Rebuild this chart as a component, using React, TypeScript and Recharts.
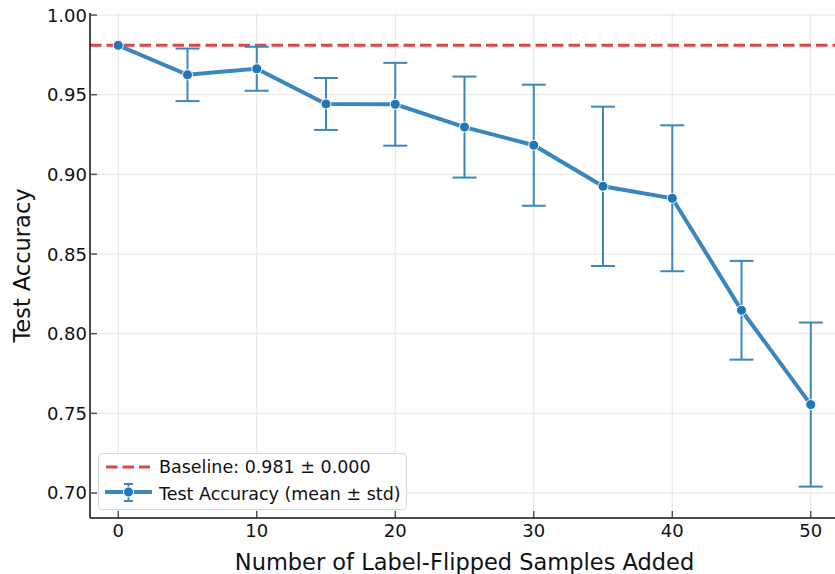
import React from "react"
import {
  ComposedChart,
  Line,
  XAxis,
  YAxis,
  CartesianGrid,
  ReferenceLine,
  ErrorBar,
} from "recharts"

const samplesAdded = [0, 5, 10, 15, 20, 25, 30, 35, 40, 45, 50]
const meanAccuracy = [0.981, 0.9625, 0.9663, 0.9442, 0.944, 0.9297, 0.9183, 0.8925, 0.885, 0.8147, 0.7555]
const stdAccuracy = [0, 0.0165, 0.0138, 0.0163, 0.026, 0.0317, 0.038, 0.05, 0.0458, 0.031, 0.0515]
const baseline = 0.981
const xTicks = [0, 10, 20, 30, 40, 50]
const yTicks = [0.7, 0.75, 0.8, 0.85, 0.9, 0.95, 1.0]

const data = samplesAdded.map((x, i) => ({
  x,
  mean: meanAccuracy[i],
  std: stdAccuracy[i],
}))

const FONT = "DejaVu Sans, sans-serif"
const BLUE = "#3a87c0"
const DOT = "#2276b4"
const RED = "#e04545"
const DASH = "11.5 5"

function XTick(props: any) {
  const { x, y, payload } = props
  return (
    <g>
      <line x1={x} y1={y} x2={x} y2={y - 7} stroke="#333" strokeWidth={1.2} />
      <text x={x} y={y + 19} textAnchor="middle" fontSize={18} fontFamily={FONT} fill="#111">
        {payload.value}
      </text>
    </g>
  )
}

function YTick(props: any) {
  const { x, y, payload } = props
  return (
    <g>
      <line x1={x} y1={y} x2={x + 7} y2={y} stroke="#555" strokeWidth={1.5} />
      <text x={x - 3} y={y + 6.5} textAnchor="end" fontSize={18} fontFamily={FONT} fill="#111">
        {payload.value.toFixed(2)}
      </text>
    </g>
  )
}

function Legend() {
  return (
    <div
      style={{
        position: "absolute",
        left: 98,
        top: 453,
        width: 309,
        height: 57,
        border: "1px solid #d8d8d8",
        borderRadius: 4,
        background: "rgba(255,255,255,0.85)",
        boxSizing: "border-box",
      }}
    >
      <svg width={309} height={57} style={{ position: "absolute", left: -1, top: -1 }}>
        <line x1={8} y1={14} x2={52} y2={14} stroke={RED} strokeWidth={3} strokeDasharray={DASH} />
        <line x1={7} y1={39} x2={54} y2={39} stroke={BLUE} strokeWidth={4} />
        <line x1={30.5} y1={31} x2={30.5} y2={48} stroke={BLUE} strokeWidth={2} />
        <line x1={26} y1={31} x2={35} y2={31} stroke={BLUE} strokeWidth={2} />
        <line x1={26} y1={48} x2={35} y2={48} stroke={BLUE} strokeWidth={2} />
        <circle cx={30.5} cy={39} r={5} fill={DOT} stroke="#fff" strokeWidth={1} />
        <text x={61} y={20} fontSize={17.5} fontFamily={FONT} fill="#111">
          Baseline: 0.981 ± 0.000
        </text>
        <text x={61} y={47} fontSize={17.5} fontFamily={FONT} fill="#111">
          Test Accuracy (mean ± std)
        </text>
      </svg>
    </div>
  )
}

export default function App() {
  return (
    <div style={{ position: "absolute", left: 0, top: 0, width: 835, height: 574, background: "#fff" }}>
      <ComposedChart
        width={835}
        height={574}
        data={data}
        margin={{ top: 13, right: 0, bottom: 0, left: 0 }}
      >
        <CartesianGrid stroke="#e6e6e6" strokeWidth={1} verticalValues={xTicks} horizontalValues={yTicks} />
        <XAxis
          dataKey="x"
          type="number"
          domain={[-2.04, 51.75]}
          ticks={xTicks}
          allowDataOverflow
          height={56}
          tickSize={0}
          tickMargin={0}
          tickLine={false}
          tick={<XTick />}
          axisLine={{ stroke: "#111", strokeWidth: 1.5 }}
          label={{
            value: "Number of Label-Flipped Samples Added",
            position: "insideBottom",
            offset: 4,
            dx: 2,
            style: { fontFamily: FONT, fontSize: 22.5, fill: "#111" },
          }}
        />
        <XAxis
          xAxisId="top"
          orientation="top"
          dataKey="x"
          type="number"
          domain={[-2.04, 51.75]}
          height={0}
          tick={false}
          tickLine={false}
          axisLine={{ stroke: "#111", strokeWidth: 1.5 }}
        />
        <YAxis
          type="number"
          domain={[0.6843, 1.0013]}
          ticks={yTicks}
          allowDataOverflow
          width={90}
          tickSize={0}
          tickMargin={0}
          tickLine={false}
          tick={<YTick />}
          axisLine={{ stroke: "#111", strokeWidth: 1.5 }}
          label={{
            value: "Test Accuracy",
            angle: -90,
            position: "center",
            dx: -23,
            style: { fontFamily: FONT, fontSize: 22.5, fill: "#111", textAnchor: "middle" },
          }}
        />
        <ReferenceLine y={baseline} stroke={RED} strokeWidth={3} strokeDasharray={DASH} ifOverflow="hidden" />
        <Line
          dataKey="mean"
          type="linear"
          stroke={BLUE}
          strokeWidth={4}
          dot={{ r: 5, fill: DOT, stroke: "#fff", strokeWidth: 1 }}
          activeDot={false}
          isAnimationActive={false}
        >
          <ErrorBar dataKey="std" direction="y" width={12} stroke={BLUE} strokeWidth={2} isAnimationActive={false} />
        </Line>
      </ComposedChart>
      <Legend />
    </div>
  )
}
